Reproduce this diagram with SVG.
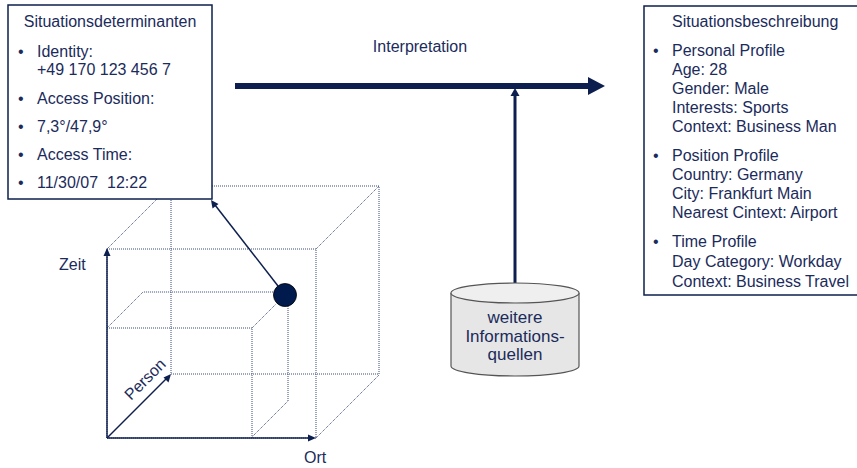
<svg xmlns="http://www.w3.org/2000/svg" width="857" height="468" viewBox="0 0 857 468">
<style>
text{font-family:"Liberation Sans",Arial,sans-serif;font-size:16px;fill:#1b2b5b}
.box{fill:#fff;stroke:#0d1f4f;stroke-width:1.5}
.dot{fill:none;stroke:#3a4a78;stroke-width:1;stroke-dasharray:1 1}
.ax{stroke:#0d1f4f;stroke-width:1.5;fill:none}
.ah{fill:#0d1f4f}
</style>
<rect width="857" height="468" fill="#fff"/>
<g id="cube">
<path class="dot" d="M107,249H316V438 M157,199L107,249 M316,249L379,186 M212,186H379V374H171V199 M316,438L379,375 M107,328H252V438 M107,328L143,292H274 M252,328L276,304 M288,304V401L252,437 M107,438V249 M107,438H316"/>
</g>
<g id="connectors">
<line class="ax" x1="107" y1="438" x2="107" y2="256"/>
<polygon class="ah" points="107,248 103.5,256 110.5,256"/>
<line class="ax" x1="107" y1="438" x2="308" y2="438"/>
<polygon class="ah" points="316,438 308,434.5 308,441.5"/>
<line class="ax" x1="107" y1="438" x2="166" y2="379"/>
<polygon class="ah" points="171,374 163.5,377.5 168.5,382.5"/>
<line class="ax" x1="278" y1="286" x2="215" y2="205"/>
<polygon class="ah" points="211,200 212.5,208.5 218.5,204"/>
<line x1="235" y1="86" x2="590" y2="86" stroke="#0d1f4f" stroke-width="6"/>
<polygon class="ah" points="588,77 605,86 588,95"/>
<line x1="515" y1="284" x2="515" y2="95" stroke="#0d1f4f" stroke-width="3"/>
<polygon class="ah" points="515,88 510.5,96 519.5,96"/>
</g>
<g id="point"><circle cx="285" cy="295" r="11.5" fill="#001a4d" stroke="#000" stroke-width="0.8"/></g>
<g id="axis-labels">
<text x="59" y="270">Zeit</text>
<text x="304" y="463">Ort</text>
<text transform="translate(131,401) rotate(-45)">Person</text>
</g>
<g id="interpretation"><text x="420" y="52" text-anchor="middle">Interpretation</text></g>
<g id="situationsdeterminanten">
<rect class="box" x="8" y="5" width="204" height="194"/>
<text x="110" y="27" text-anchor="middle">Situationsdeterminanten</text>
<text x="18" y="57">•</text><text x="37" y="57">Identity:</text>
<text x="37" y="75">+49 170 123 456 7</text>
<text x="18" y="104">•</text><text x="37" y="104">Access Position:</text>
<text x="18" y="132">•</text><text x="37" y="132">7,3°/47,9°</text>
<text x="18" y="160">•</text><text x="37" y="160">Access Time:</text>
<text x="18" y="188">•</text><text x="37" y="188" xml:space="preserve">11/30/07  12:22</text>
</g>
<g id="situationsbeschreibung">
<rect class="box" x="644" y="6" width="220" height="289"/>
<text x="672" y="27">Situationsbeschreibung</text>
<text x="653" y="56">•</text><text x="672" y="56">Personal Profile</text>
<text x="672" y="75">Age: 28</text>
<text x="672" y="94">Gender: Male</text>
<text x="672" y="113">Interests: Sports</text>
<text x="672" y="132">Context: Business Man</text>
<text x="653" y="161">•</text><text x="672" y="161">Position Profile</text>
<text x="672" y="180">Country: Germany</text>
<text x="672" y="199">City: Frankfurt Main</text>
<text x="672" y="218">Nearest Cintext: Airport</text>
<text x="653" y="247">•</text><text x="672" y="247">Time Profile</text>
<text x="672" y="267">Day Category: Workday</text>
<text x="672" y="287">Context: Business Travel</text>
</g>
<g id="informationsquellen">
<path d="M451,293V366A64,10 0 0 0 579,366V293" fill="#e6e6e6" stroke="#555" stroke-width="1.2"/>
<ellipse cx="515" cy="293" rx="64" ry="10" fill="#efefef" stroke="#555" stroke-width="1.2"/>
<text x="515" y="323" text-anchor="middle" style="font-size:17px">weitere</text>
<text x="515" y="342" text-anchor="middle" style="font-size:17px">Informations-</text>
<text x="515" y="360" text-anchor="middle" style="font-size:17px">quellen</text>
</g>
</svg>
